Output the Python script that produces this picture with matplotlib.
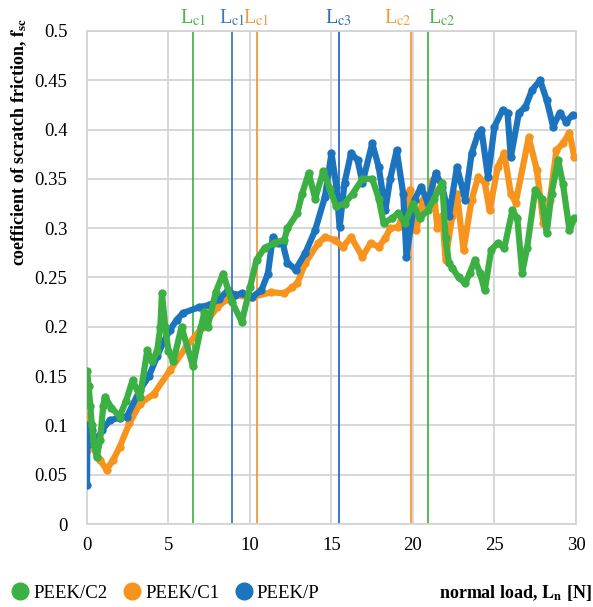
import matplotlib.pyplot as plt
from matplotlib.lines import Line2D

plt.rcParams['font.family'] = ['Liberation Serif', 'DejaVu Serif']
plt.rcParams['mathtext.fontset'] = 'stix'

# scratch friction vs normal load, read per sample
load_c2 = [0.0, 0.1, 0.2, 0.3, 0.45, 0.6, 0.8, 1.0, 1.1, 1.5, 2.0, 2.4, 2.8, 3.25, 3.7, 4.0,
           4.3, 4.5, 4.6, 4.8, 5.0, 5.3, 5.8, 6.5, 7.0, 7.2, 7.4, 7.9, 8.35, 8.9, 9.5, 10.0,
           10.4, 10.9, 11.5, 12.1, 12.3, 12.9, 13.2, 13.6, 14.0, 14.5, 14.9, 15.3, 15.8, 16.3,
           16.9, 17.5, 17.9, 18.2, 18.7, 19.1, 19.5, 20.0, 20.4, 20.9, 21.3, 21.8, 22.0, 22.2,
           22.4, 22.8, 23.2, 23.5, 23.8, 24.1, 24.4, 24.8, 25.2, 25.6, 26.1, 26.4, 26.7, 27.0,
           27.5, 27.9, 28.2, 28.5, 28.9, 29.2, 29.6, 29.9]
fsc_c2 = [0.155, 0.14, 0.12, 0.10, 0.08, 0.068, 0.085, 0.12, 0.129, 0.118, 0.109, 0.125, 0.146,
          0.129, 0.176, 0.165, 0.175, 0.2, 0.234, 0.2, 0.175, 0.165, 0.2, 0.16, 0.2, 0.215, 0.2,
          0.235, 0.254, 0.225, 0.205, 0.24, 0.268, 0.28, 0.285, 0.288, 0.3, 0.315, 0.335, 0.356,
          0.33, 0.358, 0.34, 0.322, 0.325, 0.335, 0.35, 0.35, 0.33, 0.305, 0.31, 0.315, 0.305,
          0.325, 0.31, 0.318, 0.33, 0.346, 0.29, 0.265, 0.26, 0.25, 0.244, 0.255, 0.268, 0.255,
          0.237, 0.278, 0.285, 0.28, 0.318, 0.31, 0.255, 0.28, 0.339, 0.33, 0.295, 0.335, 0.369,
          0.345, 0.298, 0.31]

load_c1 = [0.0, 0.05, 0.2, 0.5, 0.8, 1.2, 1.6, 2.0, 2.6, 3.25, 4.1, 5.1, 6.1, 7.1, 8.0, 8.6,
           9.1, 10.1, 11.3, 12.1, 12.6, 12.9, 13.4, 14.2, 14.6, 15.2, 15.7, 16.2, 16.9, 17.4,
           17.9, 18.3, 18.6, 19.1, 19.5, 19.8, 20.2, 20.6, 20.9, 21.2, 21.5, 21.8, 22.0, 22.4,
           22.7, 23.1, 23.6, 24.0, 24.4, 24.7, 25.2, 25.6, 26.0, 26.3, 27.1, 27.6, 28.0, 28.4,
           28.8, 29.2, 29.6, 29.9]
fsc_c1 = [0.075, 0.11, 0.1, 0.075, 0.065, 0.055, 0.065, 0.078, 0.102, 0.122, 0.132, 0.156, 0.18,
          0.2, 0.22, 0.228, 0.232, 0.23, 0.235, 0.234, 0.24, 0.244, 0.265, 0.285, 0.291, 0.288,
          0.281, 0.291, 0.271, 0.285, 0.281, 0.29, 0.3, 0.301, 0.321, 0.339, 0.298, 0.329, 0.321,
          0.349, 0.3, 0.312, 0.268, 0.312, 0.335, 0.278, 0.329, 0.352, 0.346, 0.318, 0.362, 0.376,
          0.335, 0.326, 0.392, 0.359, 0.305, 0.329, 0.379, 0.386, 0.397, 0.372]

load_p = [0.0, 0.02, 0.05, 0.3, 0.6, 0.9, 1.4, 2.0, 2.45, 3.25, 3.8, 4.3, 4.7, 5.1, 5.5, 5.9,
          6.9, 7.5, 8.1, 8.65, 9.1, 9.5, 10.1, 10.7, 11.1, 11.4, 11.7, 12.0, 12.3, 12.8, 13.4,
          14.0, 14.6, 15.0, 15.3, 15.5, 15.8, 16.2, 16.6, 16.9, 17.5, 17.9, 18.3, 18.6, 19.0,
          19.4, 19.6, 20.1, 20.5, 20.9, 21.4, 21.8, 22.2, 22.7, 23.2, 23.6, 24.0, 24.2, 24.6,
          25.0, 25.5, 25.8, 26.0, 26.5, 26.9, 27.3, 27.8, 28.2, 28.6, 29.0, 29.4, 29.8]
fsc_p = [0.04, 0.08, 0.1, 0.095, 0.083, 0.095, 0.105, 0.108, 0.109, 0.136, 0.15, 0.17, 0.185,
         0.197, 0.207, 0.214, 0.22, 0.222, 0.228, 0.237, 0.232, 0.234, 0.23, 0.237, 0.254, 0.291,
         0.285, 0.285, 0.265, 0.258, 0.275, 0.298, 0.332, 0.376, 0.342, 0.301, 0.346, 0.376, 0.369,
         0.346, 0.386, 0.362, 0.318, 0.35, 0.379, 0.335, 0.271, 0.329, 0.342, 0.326, 0.356, 0.342,
         0.312, 0.362, 0.329, 0.376, 0.396, 0.4, 0.352, 0.403, 0.42, 0.417, 0.372, 0.417, 0.423,
         0.44, 0.45, 0.43, 0.403, 0.417, 0.408, 0.415]

# critical loads
crit_loads = [6.5, 8.9, 10.4, 15.45, 19.9, 20.9]
crit_names = ['c1', 'c1', 'c1', 'c3', 'c2', 'c2']
crit_colors = ['#47b64a', '#3a78c8', '#f39a3c', '#2b6cc0', '#f39a3c', '#47b64a']
crit_align = ['center', 'center', 'center', 'center', 'right', 'left']

green = '#3cb043'
orange = '#f7941d'
blue = '#1c74bf'
grid = '#d4d4d4'

fig = plt.figure(figsize=(5.93, 6.07), dpi=100)
ax = fig.add_axes([0.1467, 0.1367, 0.8246, 0.8123])

ax.set_xlim(0, 30)
ax.set_ylim(0, 0.5)
ax.set_xticks(range(0, 31, 5))
ax.set_yticks([i * 0.05 for i in range(11)])
ax.set_yticklabels(['0', '0.05', '0.1', '0.15', '0.2', '0.25', '0.3', '0.35', '0.4', '0.45', '0.5'])
ax.grid(True, color=grid, lw=1.3)
ax.set_axisbelow(True)
for s in ax.spines.values():
    s.set_color(grid)
    s.set_linewidth(1.3)
ax.tick_params(length=0, labelsize=13.5)
ax.tick_params(axis='y', pad=14)
ax.tick_params(axis='x', pad=9)

for x, name, c, ha in zip(crit_loads, crit_names, crit_colors, crit_align):
    ax.axvline(x, color=c, lw=1.3, zorder=2)
    ax.text(x, 0.503, r'L$_{\mathrm{' + name + '}}$', color=c, fontsize=14.5,
            ha=ha, va='bottom')

for xs, ys, c in [(load_c1, fsc_c1, orange), (load_p, fsc_p, blue), (load_c2, fsc_c2, green)]:
    ax.plot(xs, ys, color=c, lw=4.5, marker='o', ms=5, solid_capstyle='round',
            solid_joinstyle='round', zorder=3)

fig.text(19 / 593, 1 - 142 / 607,
         r'coefficient of scratch friction, $\mathbf{f}_{\mathbf{sc}}$',
         rotation=90, fontsize=13, fontweight='bold', ha='center', va='center')

handles = [Line2D([], [], ls='none', marker='o', ms=12, color=c) for c in (green, orange, blue)]
fig.legend(handles, ['PEEK/C2', 'PEEK/C1', 'PEEK/P'], loc='center left',
           bbox_to_anchor=(-0.013, 0.023), ncol=3, frameon=False, fontsize=13.5,
           handletextpad=0.1, columnspacing=0.7, handlelength=1.2)
fig.text(0.997, 0.023, r'normal load, $\mathbf{L}_{\mathbf{n}}$ [N]', fontsize=13,
         fontweight='bold', ha='right', va='center')

fig.savefig('out.png', dpi=100)
